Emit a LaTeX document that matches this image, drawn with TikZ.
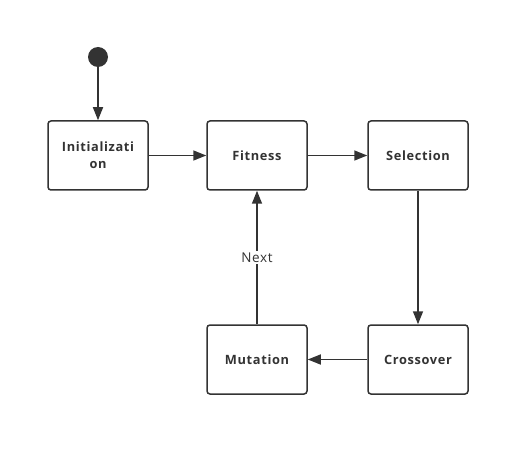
\documentclass[tikz,border=0pt]{standalone}
\usepackage{fontspec}
\setmainfont{Open Sans}
\newfontfamily\boxfont[LetterSpace=5]{Open Sans}
\usetikzlibrary{arrows.meta,positioning}
\definecolor{ink}{HTML}{333333}
\tikzset{>={Triangle[length=13pt,width=10pt]}}
\tikzset{
  state/.style={draw=ink,line width=1.5pt,rounded corners=3pt,minimum width=100pt,minimum height=69pt,
    align=center,font=\boxfont\fontsize{12.8}{17}\selectfont\bfseries,text=ink},
  flow/.style={->,draw=ink,line width=1.5pt}
}
\begin{document}
\begin{tikzpicture}[x=1pt,y=-1pt]
    \useasboundingbox (0,0) rectangle (530,457);
    \fill [ink] (98,57) circle (10) coordinate (start);
    \node [state] (init) at (98,155.5) {Initializati\\on};
    \node [state,right=57.5pt of init] (fitness) {Fitness};
    \node [state,right=59.5pt of fitness] (selection) {Selection};
    \node [state,below=133.5pt of selection] (crossover) {Crossover};
    \node [state,left=59.5pt of crossover] (mutation) {Mutation};
    \draw [flow] (98,67) -- (init);
    \draw [flow] (init) -- (fitness);
    \draw [flow] (fitness) -- (selection);
    \draw [flow] (selection) -- (crossover);
    \draw [flow] (crossover) -- (mutation);
    \draw [flow] (mutation) -- node [fill=white,inner sep=2pt,text=ink,font=\boxfont\fontsize{13.5}{16}\selectfont,pos=0.5] {Next} (fitness);
  \end{tikzpicture}
\end{document}
